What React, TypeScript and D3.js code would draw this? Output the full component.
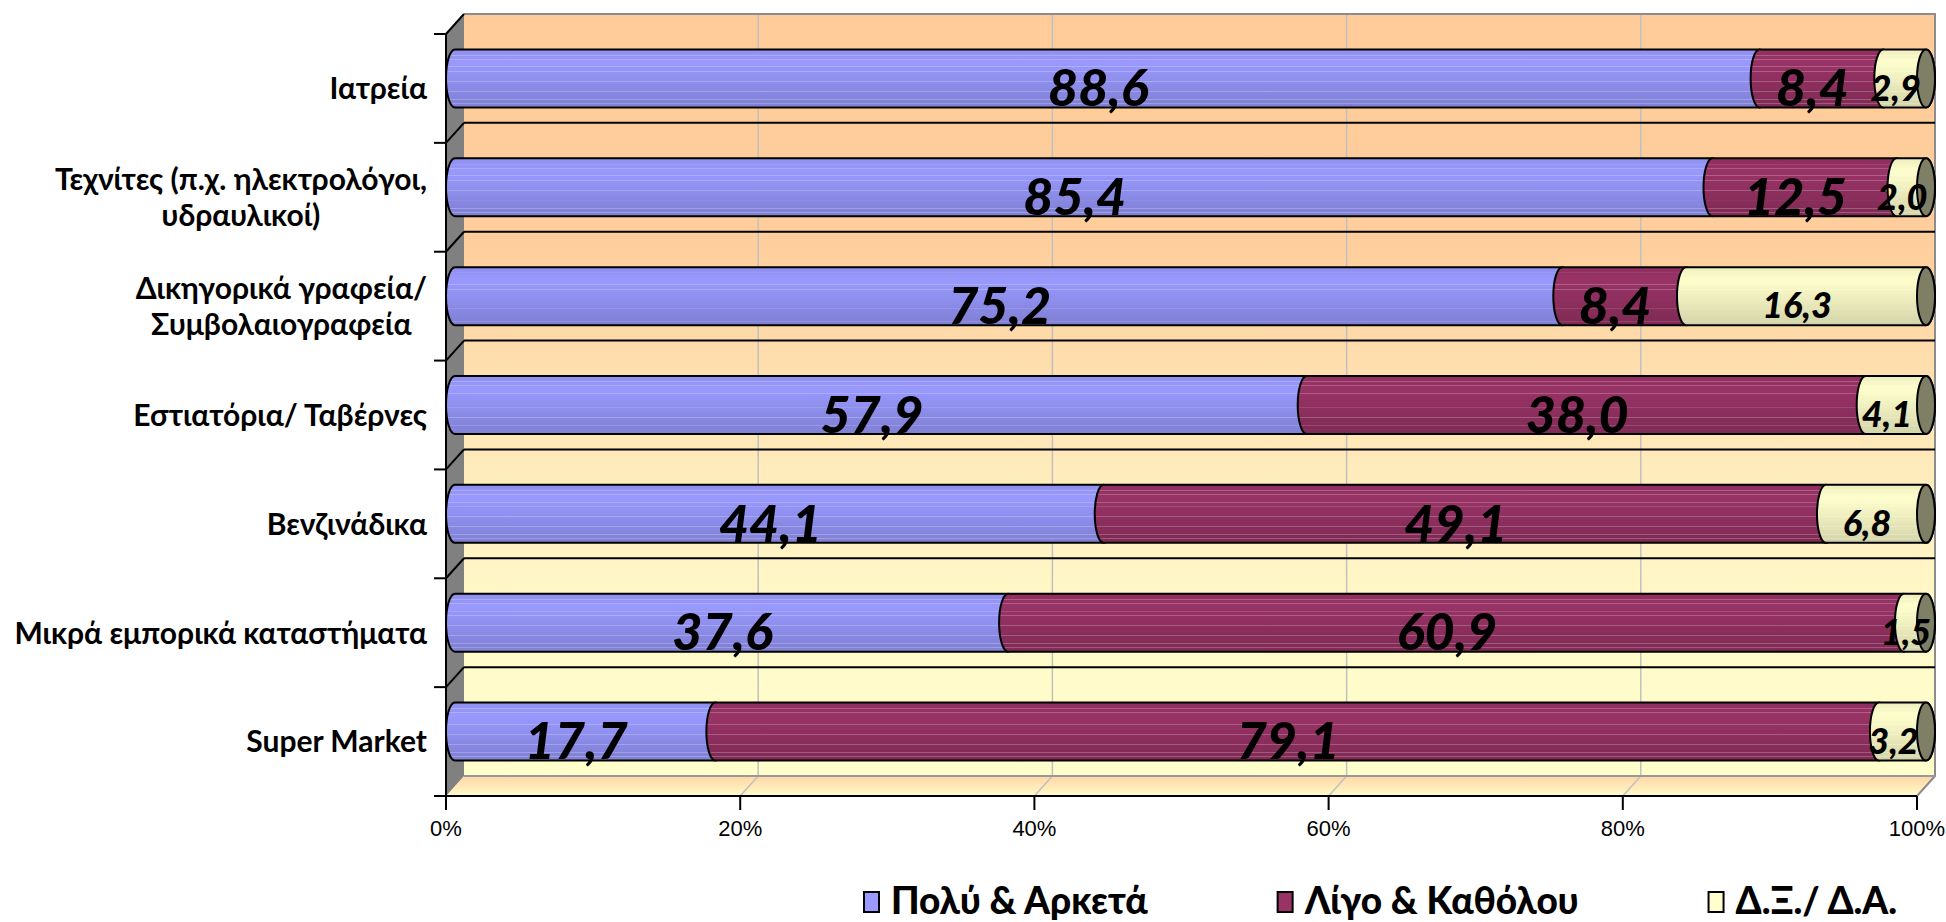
import React, { useEffect, useRef } from "react";
import * as d3 from "d3";

// ---------- data ----------
const CATEGORIES: string[][] = [
  ["Ιατρεία"],
  ["Τεχνίτες (π.χ. ηλεκτρολόγοι,", "υδραυλικοί)"],
  ["Δικηγορικά γραφεία/", "Συμβολαιογραφεία"],
  ["Εστιατόρια/ Ταβέρνες"],
  ["Βενζινάδικα"],
  ["Μικρά εμπορικά καταστήματα"],
  ["Super Market"],
];
const SERIES_NAMES = ["Πολύ & Αρκετά", "Λίγο & Καθόλου", "Δ.Ξ./ Δ.Α."];
const POLY_ARKETA = [88.6, 85.4, 75.2, 57.9, 44.1, 37.6, 17.7];
const LIGO_KATHOLOU = [8.4, 12.5, 8.4, 38.0, 49.1, 60.9, 79.1];
const DX_DA = [2.9, 2.0, 16.3, 4.1, 6.8, 1.5, 3.2];
const X_TICKS = [0, 0.2, 0.4, 0.6, 0.8, 1];

// ---------- style ----------
const W = 1946;
const H = 922;
const SERIES_COLORS = ["#9999FF", "#993366", "#FFFFCC"];
const CAP_COLOR = "#7f7f66";
const LABEL_FONT = "Lato, 'Noto Sans', 'Open Sans', sans-serif";
const TICK_FONT = "'Liberation Sans', Arial, sans-serif";

export default function App() {
  const ref = useRef<SVGSVGElement>(null);

  useEffect(() => {
    const svg = d3.select(ref.current as SVGSVGElement);
    svg.selectAll("*").remove();

    // plot frame (front plane) and 3-D depth offset
    const left = 446, right = 1917, top = 34, bottom = 796;
    const ddx = 18, ddy = -20;

    const x = d3.scaleLinear().domain([0, 1]).range([left, right]);
    const y = d3.scaleBand<number>().domain(d3.range(CATEGORIES.length)).range([top, bottom]).padding(0);
    const bw = y.bandwidth();
    const barH = bw * 0.533;
    const rx = ddx / 2;

    const rows = CATEGORIES.map((_, i) => ({ a: POLY_ARKETA[i], b: LIGO_KATHOLOU[i], c: DX_DA[i] }));
    const raw = [POLY_ARKETA, LIGO_KATHOLOU, DX_DA];
    const stacked = d3.stack<any>().keys(["a", "b", "c"]).offset(d3.stackOffsetExpand)(rows);

    const defs = svg.append("defs");

    // wall gradient
    const wg = defs.append("linearGradient").attr("id", "wallGrad").attr("x1", 0).attr("y1", 0).attr("x2", 0).attr("y2", 1);
    [
      [0, "#FFCC99"], [0.3, "#FFCE9C"], [0.48, "#FFE0B0"], [0.64, "#FFEFC0"], [0.8, "#FFF9C9"], [1, "#FFFFCC"],
    ].forEach(([o, c]) => wg.append("stop").attr("offset", o as number).attr("stop-color", c as string));
    const fg = defs.append("linearGradient").attr("id", "floorGrad").attr("x1", 0).attr("y1", 0).attr("x2", 0).attr("y2", 1);
    [[0, "#FFD6A4"], [1, "#FFFBCA"]].forEach(([o, c]) =>
      fg.append("stop").attr("offset", o as number).attr("stop-color", c as string));

    // banded cylinder gradients
    const stripes = [0.1, 0.17, 0.3, 0.38, 0.55, 0.72, 0.86, 0.93];
    const shade = (t: number) => (t < 0.22 ? 0.93 + 0.07 * (t / 0.22) : 1 - 0.17 * ((t - 0.22) / 0.78));
    SERIES_COLORS.forEach((col, si) => {
      const g = defs.append("linearGradient").attr("id", `barGrad${si}`).attr("x1", 0).attr("y1", 0).attr("x2", 0).attr("y2", 1);
      const base = d3.rgb(col);
      const colorAt = (t: number, stripe: boolean) => {
        const k = shade(t);
        const c = d3.rgb(Math.min(255, base.r * k), Math.min(255, base.g * k), Math.min(255, base.b * k));
        return stripe ? d3.interpolateRgb(c, "#ffffff")(0.22).toString() : c.toString();
      };
      const stops: [number, boolean][] = [];
      d3.range(0, 1.0001, 0.05).forEach((t) => stops.push([t, false]));
      stripes.forEach((s) => {
        stops.push([s - 0.008, false]);
        stops.push([s - 0.006, true]);
        stops.push([s + 0.006, true]);
        stops.push([s + 0.008, false]);
      });
      stops.sort((p, q) => p[0] - q[0]);
      stops.forEach(([t, st]) => {
        const inStripe = stripes.some((s) => Math.abs(t - s) <= 0.0061);
        g.append("stop").attr("offset", Math.max(0, Math.min(1, t))).attr("stop-color", colorAt(t, st || inStripe));
      });
    });

    // ---- walls ----
    const yB0 = top + ddy; // back top
    const yBb = bottom + ddy; // back bottom
    svg.append("rect")
      .attr("x", left + ddx).attr("y", yB0)
      .attr("width", right - left).attr("height", yBb - yB0)
      .attr("fill", "url(#wallGrad)");
    svg.append("path")
      .attr("d", `M${left + ddx},${yBb}L${right + ddx},${yBb}L${right},${bottom}L${left},${bottom}Z`)
      .attr("fill", "url(#floorGrad)");
    svg.append("path")
      .attr("d", `M${left},${top}L${left + ddx},${yB0}L${left + ddx},${yBb}L${left},${bottom}Z`)
      .attr("fill", "#808080");

    // vertical gridlines on back wall + floor
    X_TICKS.slice(1, -1).forEach((t) => {
      svg.append("line")
        .attr("x1", x(t) + ddx).attr("x2", x(t) + ddx)
        .attr("y1", yB0).attr("y2", yBb)
        .attr("stroke", "#c0c0c0").attr("stroke-width", 1.5);
      svg.append("line")
        .attr("x1", x(t) + ddx).attr("x2", x(t))
        .attr("y1", yBb).attr("y2", bottom)
        .attr("stroke", "#c0c0c0").attr("stroke-width", 1.5);
    });

    // back wall border (gray)
    svg.append("path")
      .attr("d", `M${left + ddx},${yB0}L${right + ddx},${yB0}L${right + ddx},${yBb}L${right},${bottom}`)
      .attr("fill", "none").attr("stroke", "#8c8c8c").attr("stroke-width", 2);
    svg.append("line")
      .attr("x1", left + ddx).attr("x2", right + ddx).attr("y1", yBb).attr("y2", yBb)
      .attr("stroke", "#999999").attr("stroke-width", 2);

    // category boundaries
    const bounds = d3.range(CATEGORIES.length + 1).map((i) => top + i * bw);
    bounds.forEach((by, i) => {
      if (i > 0 && i < CATEGORIES.length) {
        svg.append("line")
          .attr("x1", left + ddx).attr("x2", right + ddx)
          .attr("y1", by + ddy).attr("y2", by + ddy)
          .attr("stroke", "#000").attr("stroke-width", 2);
      }
      if (i < CATEGORIES.length) {
        svg.append("line")
          .attr("x1", left).attr("x2", left + ddx)
          .attr("y1", by).attr("y2", by + ddy)
          .attr("stroke", "#000").attr("stroke-width", 2);
      }
      svg.append("line")
        .attr("x1", left - 12).attr("x2", left)
        .attr("y1", by).attr("y2", by)
        .attr("stroke", "#000").attr("stroke-width", 2);
    });
    // axes (front)
    svg.append("line")
      .attr("x1", left).attr("x2", left).attr("y1", top).attr("y2", bottom)
      .attr("stroke", "#000").attr("stroke-width", 2);
    svg.append("line")
      .attr("x1", left).attr("x2", right).attr("y1", bottom).attr("y2", bottom)
      .attr("stroke", "#000").attr("stroke-width", 2);
    X_TICKS.forEach((t) => {
      svg.append("line")
        .attr("x1", x(t)).attr("x2", x(t)).attr("y1", bottom).attr("y2", bottom + 14)
        .attr("stroke", "#000").attr("stroke-width", 2);
      svg.append("text")
        .attr("x", x(t)).attr("y", bottom + 40)
        .attr("text-anchor", "middle")
        .attr("font-family", TICK_FONT).attr("font-size", 22)
        .attr("fill", "#000")
        .text(d3.format(".0%")(t));
    });

    // ---- bars ----
    const segPath = (x0: number, x1: number, yc: number) => {
      const t = yc - barH / 2, b = yc + barH / 2, ry = barH / 2;
      return `M${x0},${t}A${rx},${ry} 0 0 0 ${x0},${b}L${x1},${b}A${rx},${ry} 0 0 0 ${x1},${t}Z`;
    };
    CATEGORIES.forEach((_, i) => {
      const yc = (y(i) as number) + bw / 2 + ddy / 2;
      stacked.forEach((layer, si) => {
        const [v0, v1] = layer[i];
        svg.append("path")
          .attr("d", segPath(x(v0) + ddx / 2, x(v1) + ddx / 2, yc))
          .attr("fill", `url(#barGrad${si})`)
          .attr("stroke", "#000").attr("stroke-width", 2).attr("stroke-linejoin", "round");
      });
      const end = x(stacked[stacked.length - 1][i][1]) + ddx / 2;
      svg.append("ellipse")
        .attr("cx", end).attr("cy", yc).attr("rx", rx).attr("ry", barH / 2)
        .attr("fill", CAP_COLOR).attr("stroke", "#000").attr("stroke-width", 2);
    });

    // ---- value labels (front plane) ----
    const fmt = (v: number) => d3.format(".1f")(v).replace(".", ",");
    CATEGORIES.forEach((_, i) => {
      const yc = (y(i) as number) + bw / 2;
      stacked.forEach((layer, si) => {
        const [v0, v1] = layer[i];
        const fs = si === 2 ? 36 : 52;
        svg.append("text")
          .attr("x", x((v0 + v1) / 2)).attr("y", yc + fs * 0.34)
          .attr("text-anchor", "middle")
          .attr("font-family", LABEL_FONT).attr("font-weight", 900).attr("font-style", "italic")
          .attr("font-size", fs).attr("fill", "#000")
          .text(fmt(raw[si][i]));
      });
    });

    // ---- category labels ----
    const labelRight = 427;
    const lineH = 36;
    CATEGORIES.forEach((lines, i) => {
      const yc = (y(i) as number) + bw / 2;
      const g = svg.append("g");
      const texts = lines.map((ln, k) =>
        g.append("text")
          .attr("y", yc + (k - (lines.length - 1) / 2) * lineH + 30 * 0.36)
          .attr("font-family", LABEL_FONT).attr("font-weight", 700).attr("font-size", 30)
          .attr("fill", "#000").attr("text-anchor", "middle")
          .text(ln)
      );
      const widths = texts.map((t) => (t.node() as SVGTextElement).getComputedTextLength());
      const maxW = d3.max(widths) || 0;
      texts.forEach((t) => t.attr("x", labelRight - maxW / 2));
    });

    // ---- legend ----
    let lx = 864;
    const lyc = 902;
    SERIES_NAMES.forEach((name, si) => {
      svg.append("rect")
        .attr("x", lx).attr("y", lyc - 10).attr("width", 15).attr("height", 20)
        .attr("fill", SERIES_COLORS[si]).attr("stroke", "#000").attr("stroke-width", 2);
      const t = svg.append("text")
        .attr("x", lx + 27).attr("y", lyc + 12)
        .attr("font-family", LABEL_FONT).attr("font-weight", 900).attr("font-size", 37)
        .attr("fill", "#000").text(name);
      const w = (t.node() as SVGTextElement).getComputedTextLength();
      lx = lx + 27 + w + 130;
    });
  }, []);

  return (
    <svg
      ref={ref}
      width={W}
      height={H}
      style={{ position: "absolute", left: 0, top: 0, display: "block", background: "#ffffff" }}
    />
  );
}
